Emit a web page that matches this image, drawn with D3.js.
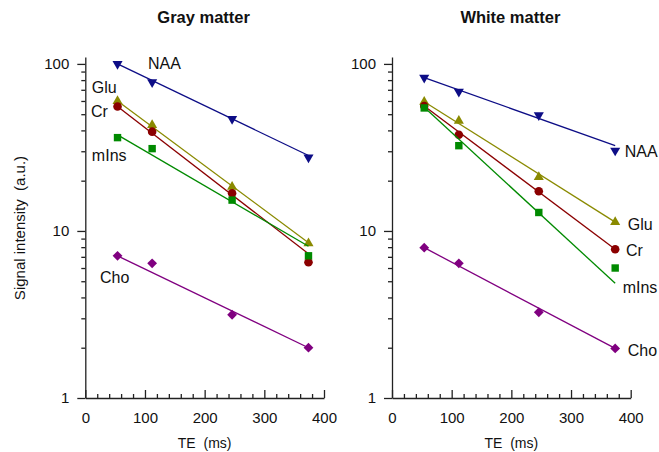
<!DOCTYPE html>
<html>
<head>
<meta charset="utf-8">
<script src="https://cdn.jsdelivr.net/npm/d3@7"></script>
<style>
  body { margin: 0; background: #fff; }
  text { font-family: "Liberation Sans", Arial, sans-serif; fill: #111; }
</style>
</head>
<body>
<div id="chart"></div>
<script>
// Echo times (ms)
const te = [54, 112, 246, 374];
const metabolites = ["NAA", "Glu", "Cr", "mIns", "Cho"];

// Gray matter signal (a.u.)
const grayNAA  = [100, 77.7, 46.9, 27.6];
const grayGlu  = [60, 43.1, 18.4, 8.44];
const grayCr   = [55.6, 39.3, 16.8, 6.5];
const grayMIns = [36.2, 31.1, 15.3, 7.1];
const grayCho  = [7.1, 6.4, 3.15, 2.0];
// Gray matter fit line, value at first / last TE
const grayFitStart = [100, 60, 55.6, 37.6, 7.1];
const grayFitEnd   = [28.3, 8.5, 7.3, 8.1, 2.0];

// White matter signal (a.u.)
const whiteNAA  = [82.8, 68.3, 49.3, 30.3];
const whiteGlu  = [59.3, 45.6, 21.0, 11.3];
const whiteCr   = [56, 37.7, 17.3, 7.77];
const whiteMIns = [54.5, 32.4, 12.9, 6.0];
const whiteCho  = [7.94, 6.4, 3.26, 1.98];
const whiteFitStart = [82.8, 59.3, 56, 55, 7.94];
const whiteFitEnd   = [32.4, 11.3, 7.77, 4.86, 1.98];

// Axis ticks
const xMajor = [0, 100, 200, 300, 400];
const yMajor = [1, 10, 100];

const colors = { NAA: "#0d0d86", Glu: "#8a8a00", Cr: "#8b0000", mIns: "#008a00", Cho: "#800080" };
const symbols = {
  NAA: d3.symbolTriangle, Glu: d3.symbolTriangle, Cr: d3.symbolCircle,
  mIns: d3.symbolSquare, Cho: d3.symbolSquare
};
const symSize = { NAA: 44, Glu: 44, Cr: 58, mIns: 55, Cho: 48 };
const symRot = { NAA: 180, Glu: 0, Cr: 0, mIns: 0, Cho: 45 };

// label anchor in data units [TE, value]
const grayLabels  = { NAA: [105, 93.3], Glu: [11, 67.1], Cr: [9.5, 48.1], mIns: [11, 26.2], Cho: [24.6, 4.88] };
const whiteLabels = { NAA: [390, 27.7], Glu: [395, 10.14], Cr: [392, 7.08], mIns: [386.5, 4.27], Cho: [395, 1.78] };

const panels = [
  { title: "Gray matter", left: 85.3, series: [grayNAA, grayGlu, grayCr, grayMIns, grayCho],
    fitStart: grayFitStart, fitEnd: grayFitEnd, labels: grayLabels },
  { title: "White matter", left: 392, series: [whiteNAA, whiteGlu, whiteCr, whiteMIns, whiteCho],
    fitStart: whiteFitStart, fitEnd: whiteFitEnd, labels: whiteLabels }
];

const W = 659, H = 452;
const plotW = 238.7;

const svg = d3.select("#chart").append("svg")
  .attr("width", W).attr("height", H);

const y = d3.scaleLog().domain([1, 110]).range([398, 57]);

// y label
svg.append("text")
  .attr("transform", `translate(25,228) rotate(-90)`)
  .attr("text-anchor", "middle")
  .style("font-size", "15px")
  .style("white-space", "pre")
  .text("Signal intensity  (a.u.)");

panels.forEach(p => {
  const x = d3.scaleLinear().domain([0, 400]).range([p.left, p.left + plotW]);
  const g = svg.append("g");

  // title
  g.append("text")
    .attr("x", x(200) - 1).attr("y", 23)
    .attr("text-anchor", "middle")
    .style("font-size", "16.5px").style("font-weight", "bold")
    .text(p.title);

  // x label
  g.append("text")
    .attr("x", x(200)).attr("y", 448)
    .attr("text-anchor", "middle")
    .style("font-size", "14px")
    .style("white-space", "pre")
    .text("TE  (ms)");

  // x axis, ticks pointing up
  const xMinor = d3.range(20, 400, 20).filter(v => v % 100 !== 0);
  const xAxis = g.append("g")
    .attr("transform", `translate(0,${y(1)})`)
    .call(d3.axisBottom(x).tickValues(xMajor).tickSizeInner(-8).tickSizeOuter(0).tickPadding(14));
  xAxis.selectAll(".tick text").style("font-size", "15px").attr("dy", "0.71em");
  g.append("g")
    .attr("transform", `translate(0,${y(1)})`)
    .call(d3.axisBottom(x).tickValues(xMinor).tickSizeInner(-4).tickSizeOuter(0).tickFormat(""))
    .select(".domain").remove();

  // y axis
  const yMinor = [];
  [1, 10].forEach(d => d3.range(2, 10).forEach(m => yMinor.push(d * m)));
  const yAxis = g.append("g")
    .attr("transform", `translate(${x(0)},0)`)
    .call(d3.axisLeft(y).tickValues(yMajor).tickFormat(d3.format("d"))
      .tickSizeInner(8).tickSizeOuter(0).tickPadding(8));
  yAxis.selectAll(".tick text").style("font-size", "15px");
  g.append("g")
    .attr("transform", `translate(${x(0)},0)`)
    .call(d3.axisLeft(y).tickValues(yMinor).tickSizeInner(4).tickSizeOuter(0).tickFormat(""))
    .select(".domain").remove();

  g.selectAll(".domain, .tick line").attr("stroke", "#222").attr("stroke-width", 1.3);

  metabolites.forEach((m, i) => {
    const vals = p.series[i];
    const col = colors[m];

    // fit line
    g.append("line")
      .attr("x1", x(te[0])).attr("y1", y(p.fitStart[i]))
      .attr("x2", x(te[te.length - 1])).attr("y2", y(p.fitEnd[i]))
      .attr("stroke", col).attr("stroke-width", 1.3);

    // markers
    g.selectAll(null)
      .data(vals.map((v, j) => [te[j], v]))
      .join("path")
      .attr("d", d3.symbol(symbols[m], symSize[m]))
      .attr("transform", d => `translate(${x(d[0])},${y(d[1])}) rotate(${symRot[m]})`)
      .attr("fill", col);

    // label
    const lp = p.labels[m];
    g.append("text")
      .attr("x", x(lp[0])).attr("y", y(lp[1]))
      .style("font-size", "16px")
      .text(m);
  });
});
</script>
</body>
</html>
